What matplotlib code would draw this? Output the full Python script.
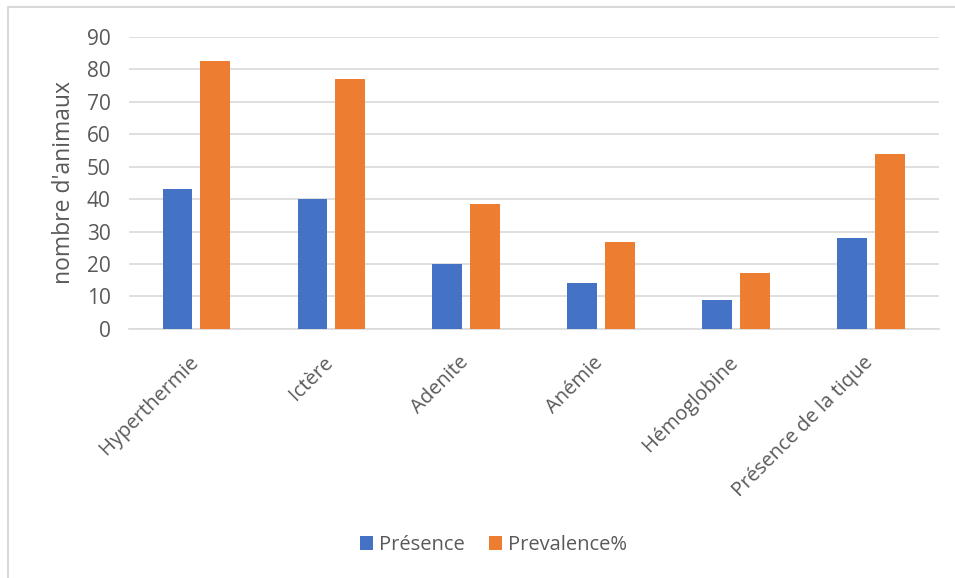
import numpy as np
import matplotlib.pyplot as plt
import matplotlib.transforms as mtransforms
from matplotlib.patches import Rectangle

categories = ['Hyperthermie', 'Ictère', 'Adenite', 'Anémie', 'Hémoglobine', 'Présence de la tique']
presence = [43, 40, 20, 14, 9, 28]
prevalence = [82.7, 76.9, 38.5, 26.9, 17.3, 53.8]

blue = '#4472C4'
orange = '#ED7D31'
grey_txt = '#595959'
grid_c = '#D9D9D9'

plt.rcParams['font.family'] = ['Open Sans', 'DejaVu Sans']

fig = plt.figure(figsize=(9.55, 5.78), dpi=100)
ax = fig.add_axes([0.135, 0.431, 0.848, 0.505])

x = np.arange(len(categories))
w = 0.222
ax.bar(x - 0.14, presence, w, color=blue, label='Présence', zorder=3)
ax.bar(x + 0.14, prevalence, w, color=orange, label='Prevalence%', zorder=3)

ax.set_xlim(-0.5, len(categories) - 0.5)
ax.set_ylim(0, 90)
ax.set_yticks(range(0, 91, 10))
ax.yaxis.grid(True, color=grid_c, linewidth=1.2, zorder=0)
ax.set_axisbelow(True)
for s in ['top', 'right', 'left']:
    ax.spines[s].set_visible(False)
ax.spines['bottom'].set_color(grid_c)
ax.spines['bottom'].set_linewidth(1.2)
ax.tick_params(axis='both', length=0, colors=grey_txt)
ax.tick_params(axis='y', pad=13, labelsize=15)
ax.set_xticks(x)
ax.set_xticklabels(categories, rotation=45, ha='right', rotation_mode='anchor')
ax.tick_params(axis='x', pad=17, labelsize=14.5)
# nudge rotated labels a bit to the left so they end at the category centre
shift = mtransforms.ScaledTranslation(-0.08, 0, fig.dpi_scale_trans)
for lbl in ax.get_xticklabels():
    lbl.set_transform(lbl.get_transform() + shift)
ax.set_ylabel("nombre d'animaux", fontsize=16.5, color=grey_txt, labelpad=8)

fig.legend(loc='center', bbox_to_anchor=(0.517, 0.057), ncol=2, frameon=False,
           fontsize=14.5, labelcolor=grey_txt, handlelength=0.65, handleheight=0.65,
           columnspacing=1.2, handletextpad=0.3)

# chart frame: only left and top edges fall inside the image
fig.patches.append(Rectangle((0.008, -0.05), 1.1, 1.038, transform=fig.transFigure,
                             fill=False, edgecolor='#D9D9D9', linewidth=1.5))

fig.savefig('out.png', dpi=100)
